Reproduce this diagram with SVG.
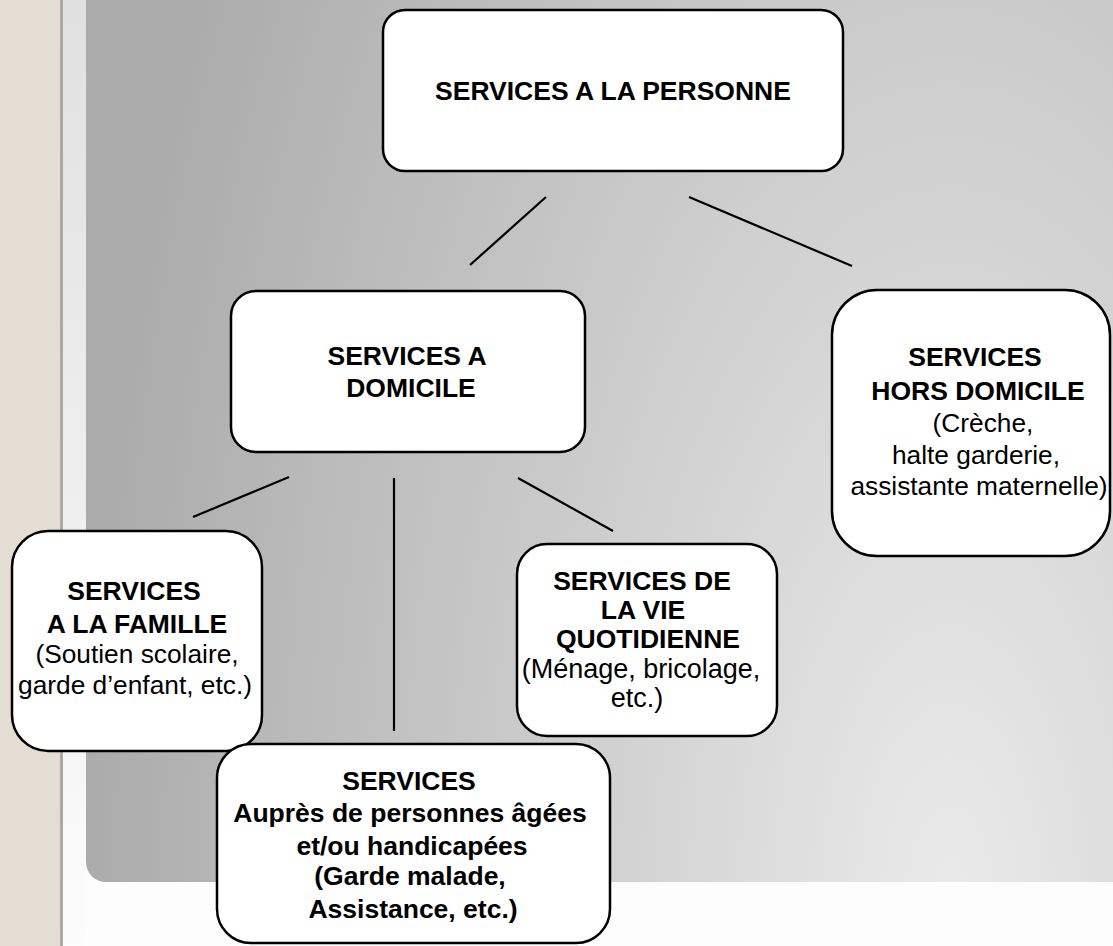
<svg xmlns="http://www.w3.org/2000/svg" width="1113" height="946" viewBox="0 0 1113 946">
  <defs>
    <radialGradient id="panelGrad" gradientUnits="userSpaceOnUse" cx="950" cy="900" r="864" gradientTransform="translate(950 900) scale(1 2.15) translate(-950 -900)">
      <stop offset="0" stop-color="#eaeaea"/>
      <stop offset="1" stop-color="#ababab"/>
    </radialGradient>
    <linearGradient id="stripGrad" x1="0" y1="0" x2="0" y2="1">
      <stop offset="0" stop-color="#e0e0e0"/>
      <stop offset="1" stop-color="#fcfcfc"/>
    </linearGradient>
    <style>
      .box { fill: #ffffff; stroke: #000000; stroke-width: 2.5; }
      .conn { stroke: #000000; stroke-width: 2.2; fill: none; }
      .b { font-family: "Liberation Sans", Arial, Helvetica, sans-serif; font-weight: bold; font-size: 26.5px; fill: #000; text-anchor: middle; }
      .r { font-family: "Liberation Sans", Arial, Helvetica, sans-serif; font-size: 26.3px; fill: #000; text-anchor: middle; }
    </style>
  </defs>

  <!-- background -->
  <rect x="0" y="0" width="1113" height="946" fill="#fdfdfd"/>
  <rect x="0" y="0" width="60" height="946" fill="#e4ddd3"/>
  <rect x="60" y="0" width="3" height="946" fill="#a9a9a9"/>
  <rect x="63" y="0" width="23" height="946" fill="url(#stripGrad)"/>
  <path d="M86 0 H1113 V882 H106 A20 20 0 0 1 86 862 Z" fill="url(#panelGrad)"/>

  <!-- connectors -->
  <g id="connectors">
    <line class="conn" x1="546" y1="197" x2="470" y2="265"/>
    <line class="conn" x1="689" y1="197" x2="852" y2="266"/>
    <line class="conn" x1="289" y1="477" x2="193" y2="517"/>
    <line class="conn" x1="394" y1="478" x2="394" y2="731"/>
    <line class="conn" x1="518" y1="478" x2="613" y2="531"/>
  </g>

  <g id="node-personne">
    <rect class="box" x="383" y="10" width="460" height="161" rx="22"/>
    <text class="b" x="613" y="100">SERVICES A LA PERSONNE</text>
  </g>

  <g id="node-domicile">
    <rect class="box" x="231" y="291" width="354" height="161" rx="25"/>
    <text class="b" x="407" y="365">SERVICES A</text>
    <text class="b" x="411" y="397">DOMICILE</text>
  </g>

  <g id="node-hors-domicile">
    <rect class="box" x="832" y="290" width="278" height="266" rx="45"/>
    <text class="b" x="975" y="366">SERVICES</text>
    <text class="b" x="978" y="400">HORS DOMICILE</text>
    <text class="r" x="983" y="432">(Crèche,</text>
    <text class="r" x="976" y="464">halte garderie,</text>
    <text class="r" x="979" y="495">assistante maternelle)</text>
  </g>

  <g id="node-famille">
    <rect class="box" x="12" y="531" width="250" height="220" rx="36"/>
    <text class="b" x="134" y="600">SERVICES</text>
    <text class="b" x="137" y="633">A LA FAMILLE</text>
    <text class="r" x="137" y="663">(Soutien scolaire,</text>
    <text class="r" x="135" y="694">garde d’enfant, etc.)</text>
  </g>

  <g id="node-vie-quotidienne">
    <rect class="box" x="517" y="544" width="260" height="192" rx="30"/>
    <text class="b" x="642" y="590">SERVICES DE</text>
    <text class="b" x="643" y="619">LA VIE</text>
    <text class="b" x="648" y="648">QUOTIDIENNE</text>
    <text class="r" x="641" y="678" style="font-size:27px">(Ménage, bricolage,</text>
    <text class="r" x="637" y="707" style="font-size:27px">etc.)</text>
  </g>

  <g id="node-personnes-agees">
    <rect class="box" x="217" y="744" width="393" height="199" rx="34"/>
    <text class="b" x="409" y="790">SERVICES</text>
    <text class="b" x="410" y="822">Auprès de personnes âgées</text>
    <text class="b" x="412" y="855">et/ou handicapées</text>
    <text class="b" x="410" y="885">(Garde malade,</text>
    <text class="b" x="413" y="918">Assistance, etc.)</text>
  </g>
</svg>
